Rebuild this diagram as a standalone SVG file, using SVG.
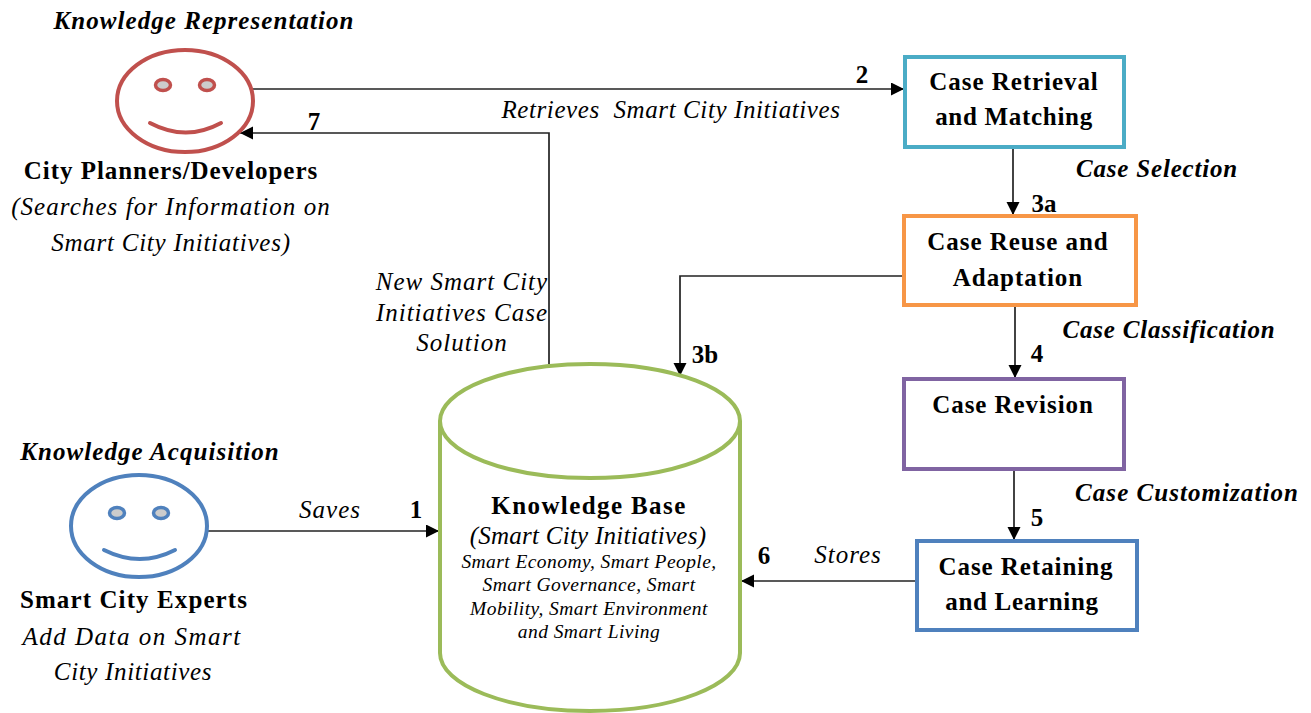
<svg xmlns="http://www.w3.org/2000/svg" width="1311" height="713" viewBox="0 0 1311 713">
<style>
text{font-family:"Liberation Serif","Times New Roman",serif;fill:#000;text-anchor:middle}
.b{font-weight:bold;font-size:25px;letter-spacing:.95px}
.bi{font-weight:bold;font-style:italic;font-size:25px;letter-spacing:1.050px}
.bt{letter-spacing:.8px}
.i{font-style:italic;font-size:25px;letter-spacing:1px}
.s{font-style:italic;font-size:19.500px;letter-spacing:.43px}
.n{font-weight:bold;font-size:25px}
.box{fill:#fff;stroke-width:4}
.face{fill:#fff;stroke-width:4}
.eye{fill:#ccc;stroke-width:3.500}
.sm{fill:none;stroke-width:4;stroke-linecap:round}
.c{fill:none;stroke:#222;stroke-width:1.700;marker-end:url(#a)}
</style>
<defs><marker id="a" markerUnits="userSpaceOnUse" markerWidth="14" markerHeight="14" refX="13" refY="6.500" orient="auto"><path d="M0 0L13 6.500L0 13Z" fill="#000"/></marker></defs>
<rect width="1311" height="713" fill="#fff"/>
<g id="connectors">
<path class="c" d="M252 89H904"/>
<path class="c" d="M549 364V133H240"/>
<path class="c" d="M1013 147V215"/>
<path class="c" d="M903 276H680V376"/>
<path class="c" d="M1015 306V378"/>
<path class="c" d="M1014 470V540"/>
<path class="c" d="M208 531H439"/>
<path class="c" d="M915 581H741"/>
</g>
<g id="planner">
<ellipse class="face" cx="185" cy="101" rx="68" ry="51" stroke="#c0504d"/>
<ellipse class="eye" cx="163" cy="85" rx="7.500" ry="5.500" stroke="#c0504d"/>
<ellipse class="eye" cx="207" cy="85" rx="7.500" ry="5.500" stroke="#c0504d"/>
<path class="sm" stroke="#c0504d" d="M150 123Q186 142 221 123"/>
<text class="bi" x="204" y="29">Knowledge Representation</text>
<text class="b" x="171" y="179">City Planners/Developers</text>
<text class="i" x="171" y="215" style="letter-spacing:1.060px">(Searches for Information on</text>
<text class="i" x="171" y="251" style="letter-spacing:.75px">Smart City Initiatives)</text>
</g>
<g id="expert">
<ellipse class="face" cx="139" cy="526" rx="68" ry="51" stroke="#4f81bd"/>
<ellipse class="eye" cx="117" cy="513" rx="7.500" ry="5.500" stroke="#4f81bd"/>
<ellipse class="eye" cx="161" cy="513" rx="7.500" ry="5.500" stroke="#4f81bd"/>
<path class="sm" stroke="#4f81bd" d="M104 550Q140 568 175 550"/>
<text class="bi" x="150" y="460">Knowledge Acquisition</text>
<text class="b" x="134" y="608" style="letter-spacing:1.100px">Smart City Experts</text>
<text class="i" x="132" y="645" style="letter-spacing:1.500px">Add Data on Smart</text>
<text class="i" x="133" y="680" style="letter-spacing:.65px">City Initiatives</text>
</g>
<g id="retrieval">
<rect class="box" x="905" y="57" width="219" height="90" stroke="#4bacc6"/>
<text class="b" x="1014" y="90">Case Retrieval</text>
<text class="b" x="1014" y="125" style="letter-spacing:.7px">and Matching</text>
</g>
<g id="reuse">
<rect class="box" x="904" y="216" width="232" height="89" stroke="#f79646"/>
<text class="b" x="1018" y="250">Case Reuse and</text>
<text class="b" x="1018" y="286">Adaptation</text>
</g>
<g id="revision">
<rect class="box" x="904" y="379" width="220" height="90" stroke="#8064a2"/>
<text class="b" x="1013" y="413">Case Revision</text>
</g>
<g id="retaining">
<rect class="box" x="917" y="541" width="220" height="89" stroke="#4f81bd"/>
<text class="b" x="1026" y="575">Case Retaining</text>
<text class="b" x="1022" y="610" style="letter-spacing:.7px">and Learning</text>
</g>
<g id="knowledge-base">
<path d="M440 421V653C440 685 507 711 590 711S740 685 740 653V421" fill="#fff" stroke="#9bbb59" stroke-width="4"/>
<ellipse cx="590" cy="421" rx="150" ry="57" fill="#fff" stroke="#9bbb59" stroke-width="4"/>
<text class="b" x="589" y="514" style="letter-spacing:1.400px">Knowledge Base</text>
<text class="i" x="588" y="544" style="letter-spacing:.25px">(Smart City Initiatives)</text>
<text class="s" x="589" y="568">Smart Economy, Smart People,</text>
<text class="s" x="589" y="591">Smart Governance, Smart</text>
<text class="s" x="589" y="615">Mobility, Smart Environment</text>
<text class="s" x="589" y="638">and Smart Living</text>
</g>
<g id="labels">
<text class="n" x="862" y="83">2</text>
<text class="i" x="671" y="118" xml:space="preserve" style="letter-spacing:.6px">Retrieves  Smart City Initiatives</text>
<text class="n" x="314" y="130">7</text>
<text class="bi bt" x="1157" y="177">Case Selection</text>
<text class="n" x="1044" y="212">3a</text>
<text class="bi bt" x="1169" y="338">Case Classification</text>
<text class="n" x="1037" y="362">4</text>
<text class="n" x="705" y="363">3b</text>
<text class="bi" x="1187" y="501">Case Customization</text>
<text class="n" x="1037" y="526">5</text>
<text class="i" x="462" y="290">New Smart City</text>
<text class="i" x="462" y="321">Initiatives Case</text>
<text class="i" x="462" y="351">Solution</text>
<text class="i" x="330" y="518">Saves</text>
<text class="n" x="416" y="518">1</text>
<text class="i" x="848" y="563">Stores</text>
<text class="n" x="764" y="564">6</text>
</g>
</svg>
